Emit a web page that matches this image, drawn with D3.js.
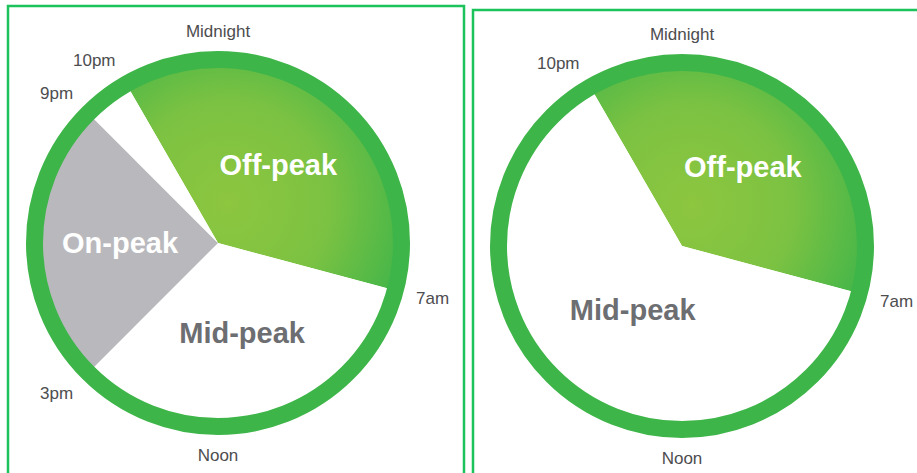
<!DOCTYPE html>
<html>
<head>
<meta charset="utf-8">
<script src="https://cdn.jsdelivr.net/npm/d3@7"></script>
<style>
  html, body { margin: 0; padding: 0; background: #fff; }
  svg { display: block; font-family: "Liberation Sans", Arial, Helvetica, sans-serif; }
</style>
</head>
<body>
<div id="chart"></div>
<script>
// Time-of-use periods, clockwise starting at 10pm (hours per slice)
const leftPeriods = ['Off-peak', 'Mid-peak', 'On-peak', 'Mid-peak'];
const leftHours = [9, 8, 6, 1];
const leftLabels = ['Off-peak', 'Mid-peak', 'On-peak', ''];

const rightPeriods = ['Off-peak', 'Mid-peak'];
const rightHours = [9, 15];
const rightLabels = ['Off-peak', 'Mid-peak'];

// clock labels around the dial (hour of day, 0 = midnight)
const leftTickNames = ['Midnight', '10pm', '9pm', '7am', '3pm', 'Noon'];
const leftTickHours = [0, 22, 21, 7, 15, 12];
const rightTickNames = ['Midnight', '10pm', '7am', 'Noon'];
const rightTickHours = [0, 22, 7, 12];

const startHour = 22;

const width = 917, height = 473;
const outerR = 192, ringW = 17;

const svg = d3.select('#chart').append('svg')
  .attr('width', width)
  .attr('height', height);

const defs = svg.append('defs');

// panel frames
svg.append('rect').attr('x', 8).attr('y', 6).attr('width', 456).attr('height', 480)
  .attr('fill', 'none').attr('stroke', '#1cc35a').attr('stroke-width', 2.5);
svg.append('rect').attr('x', 473).attr('y', 10).attr('width', 460).attr('height', 480)
  .attr('fill', 'none').attr('stroke', '#1cc35a').attr('stroke-width', 2.5);

const angle = d3.scaleLinear().domain([0, 24]).range([0, 2 * Math.PI]);

const colors = {
  'Off-peak': null, // gradient, set per panel
  'Mid-peak': '#ffffff',
  'On-peak': '#b9b9bd'
};
const labelColors = { 'Off-peak': '#ffffff', 'Mid-peak': '#6d6e71', 'On-peak': '#ffffff' };

function drawDial(id, cx, cy, labelR, periods, hours, labels, tickNames, tickHours) {
  const g = svg.append('g').attr('transform', `translate(${cx},${cy})`);

  const grad = defs.append('radialGradient')
    .attr('id', 'grad-' + id)
    .attr('gradientUnits', 'userSpaceOnUse')
    .attr('cx', 10).attr('cy', -40).attr('r', 200);
  grad.append('stop').attr('offset', 0).attr('stop-color', '#8dc63f');
  grad.append('stop').attr('offset', 0.5).attr('stop-color', '#7cc242');
  grad.append('stop').attr('offset', 1).attr('stop-color', '#3bb44a');

  const pie = d3.pie()
    .sort(null)
    .startAngle(angle(startHour - 24))
    .endAngle(angle(startHour))
    .value(d => d.hours);

  const data = periods.map((p, i) => ({ period: p, hours: hours[i], label: labels[i], r: labelR[i] }));
  const arcs = pie(data);

  const arc = d3.arc().innerRadius(0).outerRadius(outerR - ringW + 1);
  const labelPos = d => d3.arc().innerRadius(d.data.r).outerRadius(d.data.r).centroid(d);

  g.selectAll('path.slice')
    .data(arcs)
    .enter()
    .append('path')
    .attr('class', 'slice')
    .attr('d', arc)
    .attr('fill', d => d.data.period === 'Off-peak' ? `url(#grad-${id})` : colors[d.data.period]);

  // outer ring
  g.append('circle')
    .attr('r', outerR - ringW / 2)
    .attr('fill', 'none')
    .attr('stroke', '#3eb549')
    .attr('stroke-width', ringW);

  g.selectAll('text.period')
    .data(arcs.filter(d => d.data.label))
    .enter()
    .append('text')
    .attr('class', 'period')
    .attr('transform', d => `translate(${labelPos(d)})`)
    .attr('text-anchor', 'middle')
    .attr('dy', '0.35em')
    .style('font-size', '29px')
    .style('font-weight', 'bold')
    .style('fill', d => labelColors[d.data.period])
    .text(d => d.data.label);

  const tickR = 205;
  g.selectAll('text.tick')
    .data(tickNames.map((n, i) => ({ name: n, hour: tickHours[i] })))
    .enter()
    .append('text')
    .attr('class', 'tick')
    .attr('x', d => Math.sin(angle(d.hour)) * tickR)
    .attr('y', d => -Math.cos(angle(d.hour)) * tickR)
    .attr('dy', d => (0.35 - 0.4 * Math.cos(angle(d.hour))) + 'em')
    .attr('text-anchor', d => {
      const s = Math.sin(angle(d.hour));
      return s > 0.3 ? 'start' : (s < -0.3 ? 'end' : 'middle');
    })
    .style('font-size', '17px')
    .style('fill', '#4d4d4f')
    .text(d => d.name);
}

drawDial('left', 218, 243, [99, 93, 98, 0], leftPeriods, leftHours, leftLabels, leftTickNames, leftTickHours);
drawDial('right', 682, 246, [100, 81], rightPeriods, rightHours, rightLabels, rightTickNames, rightTickHours);
</script>
</body>
</html>
